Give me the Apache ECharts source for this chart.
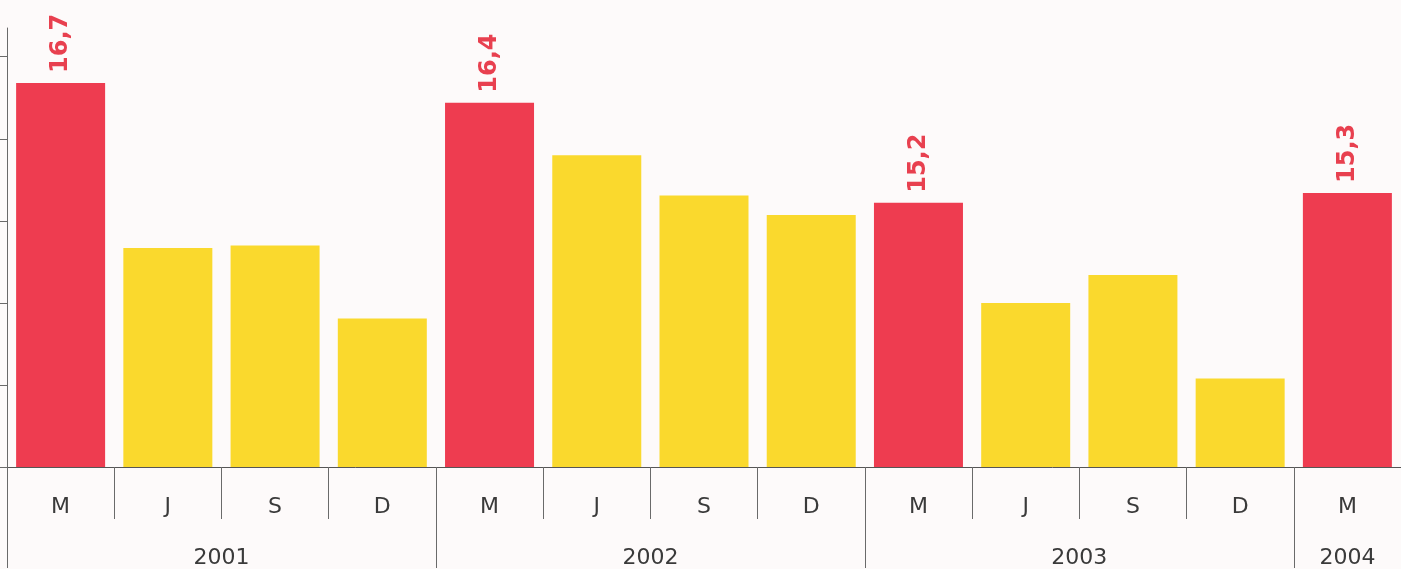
<!DOCTYPE html>
<html>
<head>
<meta charset="utf-8">
<script src="https://cdn.jsdelivr.net/npm/echarts@6/dist/echarts.min.js"></script>
<style>
html,body{margin:0;padding:0;background:#fdfafa;}
#chart{width:1401px;height:569px;}
</style>
</head>
<body>
<div id="chart"></div>
<script>
const months = ['M','J','S','D','M','J','S','D','M','J','S','D','M'];
const values = [16.68,14.67,14.7,13.81,16.44,15.8,15.31,15.07,15.22,14.0,14.34,13.08,15.34];
const years = ['2001','2002','2003','2004'];
const yearCenters = [2,6,10,12.5];
const yearBounds = [0,4,8,12];
const yTicks = [12,13,14,15,16,17];

const RED = '#ee3c50';
const YELLOW = '#fad92d';
const TXT = '#3a3a3a';
const LINE = '#6a6a6a';

const chart = echarts.init(document.getElementById('chart'));
chart.setOption({
  backgroundColor: '#fdfafa',
  animation: false,
  grid: {left: 7, right: -3, top: 28, bottom: 101, containLabel: false},
  xAxis: [{
    type: 'category',
    data: months,
    position: 'bottom',
    boundaryGap: true,
    axisLine: {show: true, lineStyle: {color: '#555', width: 1}},
    axisTick: {show: true, interval: 0, length: 52, lineStyle: {color: LINE, width: 1}},
    axisLabel: {interval: 0, margin: 40, verticalAlign: 'middle', color: TXT,
      fontFamily: 'DejaVu Sans', fontSize: 22}
  }, {
    type: 'value',
    min: 0, max: 13,
    position: 'bottom',
    axisLine: {show: false},
    splitLine: {show: false},
    axisTick: {show: true, customValues: yearBounds, length: 101, lineStyle: {color: LINE, width: 1}},
    axisLabel: {show: true, customValues: yearCenters, margin: 91, verticalAlign: 'middle',
      color: TXT, fontFamily: 'DejaVu Sans', fontSize: 22,
      formatter: function (v) { const i = yearCenters.indexOf(v); return i >= 0 ? years[i] : ''; }}
  }],
  yAxis: {
    type: 'value',
    min: 12, max: 17.35,
    axisLine: {show: true, lineStyle: {color: LINE, width: 1}},
    axisTick: {show: true, customValues: yTicks, length: 7, lineStyle: {color: LINE, width: 1}},
    axisLabel: {show: false},
    splitLine: {show: false}
  },
  series: [{
    type: 'bar',
    xAxisIndex: 0,
    barWidth: 89,
    data: values.map(function (v, i) {
      const isM = months[i] === 'M';
      return {
        value: v,
        itemStyle: {color: isM ? RED : YELLOW},
        label: {show: isM}
      };
    }),
    label: {
      show: false,
      position: 'top',
      rotate: 90,
      align: 'left',
      verticalAlign: 'middle',
      distance: 10,
      color: '#e8404f',
      fontFamily: 'DejaVu Sans',
      fontWeight: 'bold',
      fontSize: 24,
      formatter: function (p) { return p.value.toFixed(1).replace('.', ','); }
    }
  }]
});
</script>
</body>
</html>
